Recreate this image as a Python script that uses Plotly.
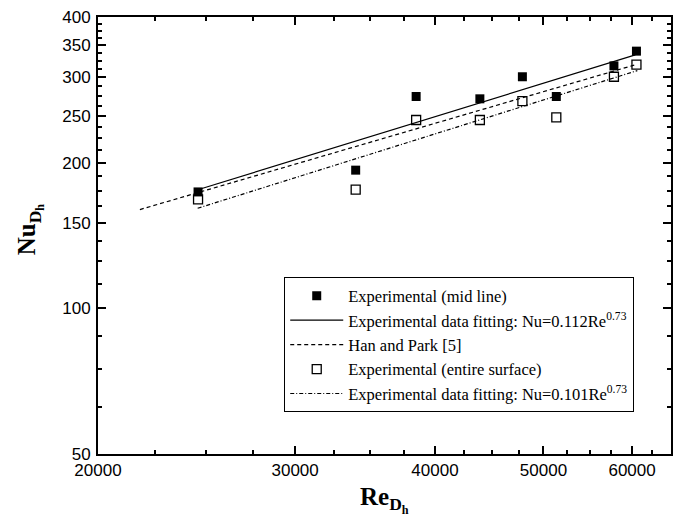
import plotly.graph_objects as go

# Data
re_exp = [24570, 33980, 38480, 43870, 47880, 51340, 57800, 60540]
nu_mid = [174, 193, 274, 271, 301, 274, 317, 340]
nu_entire = [168, 176, 245, 245, 268, 248, 301, 319]

fit_mid_re = [24600, 60400]
fit_mid_nu = [176, 334]
han_re = [21800, 60500]
han_nu = [160, 319]
fit_ent_re = [24550, 60650]
fit_ent_nu = [161, 310]

x_ticks = [20000, 30000, 40000, 50000, 60000]
x_minor = [22500, 25000, 27500, 32500, 35000, 37500, 42500, 45000, 47500,
           52500, 55000, 57500, 62500]
y_ticks = [50, 100, 150, 200, 250, 300, 350, 400]
y_minor = [62.5, 75, 87.5, 112.5, 125, 137.5, 162.5, 175, 187.5, 212.5, 225,
           237.5, 262.5, 275, 287.5, 312.5, 325, 337.5, 362.5, 375, 387.5]

fig = go.Figure()
fig.add_trace(go.Scatter(x=re_exp, y=nu_mid, mode="markers",
                         name="Experimental (mid line)",
                         marker=dict(symbol="square", size=9, color="black",
                                     line=dict(width=0))))
fig.add_trace(go.Scatter(x=fit_mid_re, y=fit_mid_nu, mode="lines",
                         name="Experimental data fitting: Nu=0.112Re<sup>0.73</sup>",
                         line=dict(color="black", width=1.2)))
fig.add_trace(go.Scatter(x=han_re, y=han_nu, mode="lines",
                         name="Han and Park [5]",
                         line=dict(color="black", width=1.2, dash="4px,3px")))
fig.add_trace(go.Scatter(x=re_exp, y=nu_entire, mode="markers",
                         name="Experimental (entire surface)",
                         marker=dict(symbol="square-open", size=9, color="black",
                                     line=dict(width=1.3, color="black"))))
fig.add_trace(go.Scatter(x=fit_ent_re, y=fit_ent_nu, mode="lines",
                         name="Experimental data fitting: Nu=0.101Re<sup>0.73</sup>",
                         line=dict(color="black", width=1.2, dash="4px,2px,1px,2px")))

axis_common = dict(
    type="log", showline=True, linewidth=2, linecolor="black", mirror="allticks",
    ticks="inside", ticklen=8, tickwidth=1.5, tickcolor="black",
    showgrid=False, zeroline=False,
    tickfont=dict(family="Liberation Sans, Arial", size=17, color="black"),
)

fig.update_xaxes(**axis_common,
                 range=[4.30103, 4.81291],
                 tickvals=x_ticks, ticktext=[str(v) for v in x_ticks],
                 minor=dict(tickvals=x_minor, ticklen=4, tickwidth=1.5,
                            tickcolor="black", ticks="inside", showgrid=False))
fig.update_yaxes(**axis_common,
                 range=[1.69897, 2.60206],
                 tickvals=y_ticks, ticktext=[str(v) for v in y_ticks],
                 ticklabelstandoff=2,
                 minor=dict(tickvals=y_minor, ticklen=4, tickwidth=1.5,
                            tickcolor="black", ticks="inside", showgrid=False))

fig.add_annotation(text="<b>Re<sub>D<sub>h</sub></sub></b>", xref="paper", yref="paper",
                   x=0.5, y=-0.062, xanchor="center", yanchor="top", showarrow=False,
                   font=dict(family="Liberation Serif", size=25, color="black"))
fig.add_annotation(text="<b>Nu<sub>D<sub>h</sub></sub></b>", xref="paper", yref="paper",
                   x=-0.118, y=0.515, xanchor="center", yanchor="middle", showarrow=False,
                   textangle=-90,
                   font=dict(family="Liberation Serif", size=25, color="black"))

fig.update_layout(
    width=681, height=520,
    margin=dict(l=98, r=8, t=16, b=66),
    plot_bgcolor="white", paper_bgcolor="white",
    showlegend=True,
    legend=dict(x=0.325, y=0.404, xanchor="left", yanchor="top",
                bordercolor="black", borderwidth=1, bgcolor="white",
                font=dict(family="Liberation Serif", size=16.5, color="black"),
                itemwidth=53, tracegroupgap=0),
)

fig.write_html("out.html")
